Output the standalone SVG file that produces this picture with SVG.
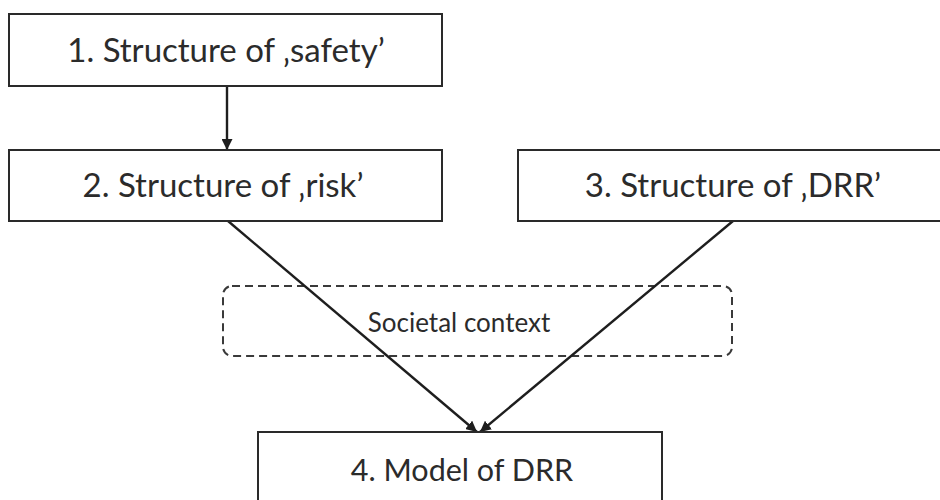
<svg xmlns="http://www.w3.org/2000/svg" width="940" height="500" viewBox="0 0 940 500">
  <defs>
    <marker id="arrow" viewBox="0 0 10 10" refX="10" refY="5" markerWidth="11" markerHeight="11" markerUnits="userSpaceOnUse" orient="auto">
      <path d="M0,0 L10,5 L0,10 z" fill="#1e1e1e"/>
    </marker>
    <style>
      .box { fill: #ffffff; stroke: #2a2a2a; stroke-width: 2; }
      .ctx { fill: none; stroke: #3a3a3a; stroke-width: 2; stroke-dasharray: 8 5; }
      .label { font-family: "Lato", "Liberation Sans", sans-serif; fill: #2b2b2b; text-anchor: middle; }
      .big { font-size: 33px; }
      .mid { font-size: 30.5px; }
      .small { font-size: 26px; }
      .edge { stroke: #1e1e1e; stroke-width: 2.4; fill: none; marker-end: url(#arrow); }
    </style>
  </defs>
  <rect width="940" height="500" fill="#ffffff"/>

  <g id="context">
    <rect class="ctx" x="223" y="286" width="509" height="70" rx="9" ry="9"/>
    <text class="label small" x="459" y="332">Societal context</text>
  </g>

  <g id="connectors">
    <line class="edge" x1="227" y1="86" x2="227" y2="150"/>
    <line class="edge" x1="228" y1="221" x2="477" y2="432"/>
    <line class="edge" x1="733" y1="221" x2="480" y2="432"/>
  </g>

  <g id="node1">
    <rect class="box" x="9" y="14" width="433" height="72"/>
    <text class="label big" x="226" y="62">1. Structure of ‚safety’</text>
  </g>

  <g id="node2">
    <rect class="box" x="9" y="150" width="433" height="71"/>
    <text class="label big" x="223" y="197">2. Structure of ‚risk’</text>
  </g>

  <g id="node3">
    <rect class="box" x="518" y="150" width="440" height="71"/>
    <text class="label big" x="733" y="197">3. Structure of ‚DRR’</text>
  </g>

  <g id="node4">
    <rect class="box" x="258" y="432" width="404" height="90"/>
    <text class="label mid" x="462" y="481">4. Model of DRR</text>
  </g>
</svg>
